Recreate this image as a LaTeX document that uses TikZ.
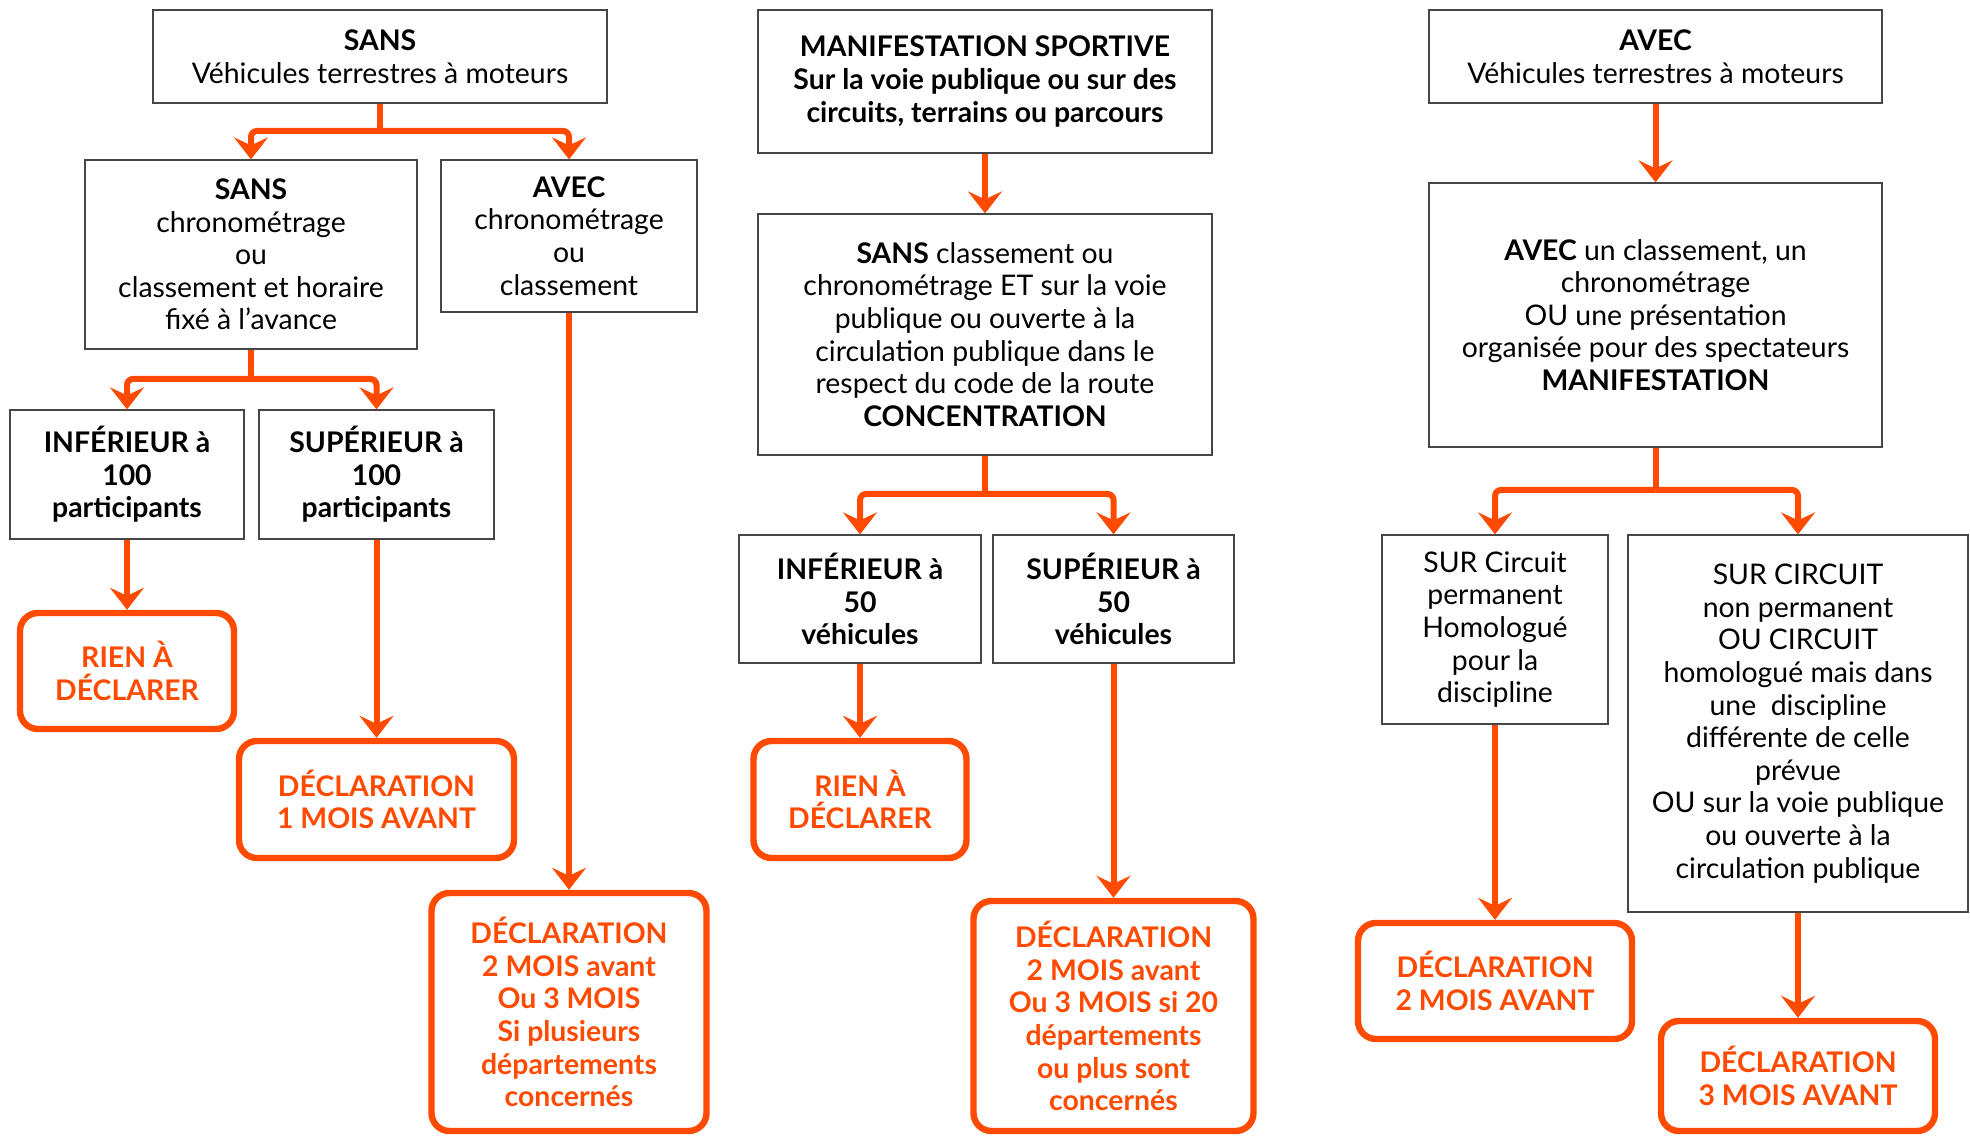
\documentclass[tikz,border=0pt]{standalone}
\usepackage{fontspec}
\setmainfont{Lato}
\usepackage{tikz}
\usetikzlibrary{arrows.meta}
\definecolor{orangedecl}{RGB}{255,74,0}
\definecolor{bordgris}{RGB}{70,70,70}

\begin{document}
\begin{tikzpicture}[x=0.5pt,y=0.5pt,
    font=\fontsize{14.2}{16.3}\selectfont,
    cadre/.style={draw=bordgris, line width=0.6pt, align=center, inner sep=1pt},
    decl/.style={draw=orangedecl, line width=3.2pt, rounded corners=9pt, align=center, text=orangedecl, font=\fontsize{14.2}{16.3}\selectfont\bfseries, inner sep=1pt},
    trait/.style={draw=orangedecl, line width=3pt},
    fleche/.style={trait, rounded corners=3pt, -{Stealth[length=11pt,width=17pt,inset=4pt]}}]
\useasboundingbox (0,0) rectangle (1970,-1138);

\node[cadre, minimum width=227pt, minimum height=46.5pt] (sansvt) at (380,-56.5) {\textbf{SANS}\\Véhicules terrestres à moteurs};
\node[cadre, minimum width=166pt, minimum height=94.5pt] (sanschrono) at (251,-254.5) {\textbf{SANS}\\chronométrage\\ou\\classement et horaire\\fixé à l’avance};
\node[cadre, minimum width=128pt, minimum height=76pt] (avecchrono) at (569,-236) {\textbf{AVEC}\\chronométrage\\ou\\classement};
\node[cadre, minimum width=117pt, minimum height=64.5pt, font=\fontsize{14.2}{16.3}\selectfont\bfseries] (inf100) at (127,-474.5) {INFÉRIEUR à\\100\\participants};
\node[cadre, minimum width=117.5pt, minimum height=64.5pt, font=\fontsize{14.2}{16.3}\selectfont\bfseries] (sup100) at (376.5,-474.5) {SUPÉRIEUR à\\100\\participants};
\node[decl, minimum width=107pt, minimum height=58pt] (rien1) at (127,-671) {RIEN À\\DÉCLARER};
\node[decl, minimum width=137.5pt, minimum height=58.5pt] (declun) at (376.5,-799.5) {DÉCLARATION\\1 MOIS AVANT};
\node[decl, minimum width=137.5pt, minimum height=119pt] (decldeux) at (569,-1012) {DÉCLARATION\\2 MOIS avant\\Ou 3 MOIS\\Si plusieurs\\départements\\concernés};

\node[cadre, minimum width=227pt, minimum height=71.5pt, font=\fontsize{14.2}{16.3}\selectfont\bfseries] (manif) at (985,-81.5) {MANIFESTATION SPORTIVE\\Sur la voie publique ou sur des\\circuits, terrains ou parcours};
\node[cadre, minimum width=227pt, minimum height=120.5pt] (concentr) at (985,-334.5) {\textbf{SANS} classement ou\\chronométrage ET sur la voie\\publique ou ouverte à la\\circulation publique dans le\\respect du code de la route\\\textbf{CONCENTRATION}};
\node[cadre, minimum width=121pt, minimum height=64pt, font=\fontsize{14.2}{16.3}\selectfont\bfseries] (inf50) at (860,-599) {INFÉRIEUR à\\50\\véhicules};
\node[cadre, minimum width=120.5pt, minimum height=64pt, font=\fontsize{14.2}{16.3}\selectfont\bfseries] (sup50) at (1113.5,-599) {SUPÉRIEUR à\\50\\véhicules};
\node[decl, minimum width=106.5pt, minimum height=58.5pt] (rien2) at (860,-799.5) {RIEN À\\DÉCLARER};
\node[decl, minimum width=140pt, minimum height=115pt] (decltrois) at (1113.5,-1016) {DÉCLARATION\\2 MOIS avant\\Ou 3 MOIS si 20\\départements\\ou plus sont\\concernés};

\node[cadre, minimum width=226.5pt, minimum height=46.5pt] (avecvt) at (1655.5,-56.5) {\textbf{AVEC}\\Véhicules terrestres à moteurs};
\node[cadre, minimum width=226.5pt, minimum height=132pt] (manifest) at (1655.5,-315) {\textbf{AVEC} un classement, un\\chronométrage\\OU une présentation\\organisée pour des spectateurs\\\textbf{MANIFESTATION}};
\node[cadre, minimum width=113pt, minimum height=94.5pt] (permanent) at (1495,-629.5) {SUR Circuit\\permanent\\Homologué\\pour la\\discipline};
\node[cadre, minimum width=170pt, minimum height=188.5pt] (nonperm) at (1798,-723.5) {SUR CIRCUIT\\non permanent\\OU CIRCUIT\\homologué mais dans\\une~ discipline\\différente de celle\\prévue\\OU sur la voie publique\\ou ouverte à la\\circulation publique};
\node[decl, minimum width=137pt, minimum height=58pt] (declquatre) at (1495,-981) {DÉCLARATION\\2 MOIS AVANT};
\node[decl, minimum width=137pt, minimum height=55pt] (declcinq) at (1798,-1076) {DÉCLARATION\\3 MOIS AVANT};

\coordinate (barsans) at (380,-131);
\coordinate (barchrono) at (251,-379);
\coordinate (barconc) at (985,-494);
\coordinate (barmanif) at (1655.5,-490);

\draw[trait] (sansvt.south) -- (barsans);
\draw[fleche] (barsans) -| (sanschrono.north);
\draw[fleche] (barsans) -| (avecchrono.north);
\draw[trait] (sanschrono.south) -- (barchrono);
\draw[fleche] (barchrono) -| (inf100.north);
\draw[fleche] (barchrono) -| (sup100.north);
\draw[fleche] (inf100.south) -- (rien1.north);
\draw[fleche] (sup100.south) -- (declun.north);
\draw[fleche] (avecchrono.south) -- (decldeux.north);

\draw[fleche] (manif.south) -- (concentr.north);
\draw[trait] (concentr.south) -- (barconc);
\draw[fleche] (barconc) -| (inf50.north);
\draw[fleche] (barconc) -| (sup50.north);
\draw[fleche] (inf50.south) -- (rien2.north);
\draw[fleche] (sup50.south) -- (decltrois.north);

\draw[fleche] (avecvt.south) -- (manifest.north);
\draw[trait] (manifest.south) -- (barmanif);
\draw[fleche] (barmanif) -| (permanent.north);
\draw[fleche] (barmanif) -| (nonperm.north);
\draw[fleche] (permanent.south) -- (declquatre.north);
\draw[fleche] (nonperm.south) -- (declcinq.north);
\end{tikzpicture}
\end{document}
